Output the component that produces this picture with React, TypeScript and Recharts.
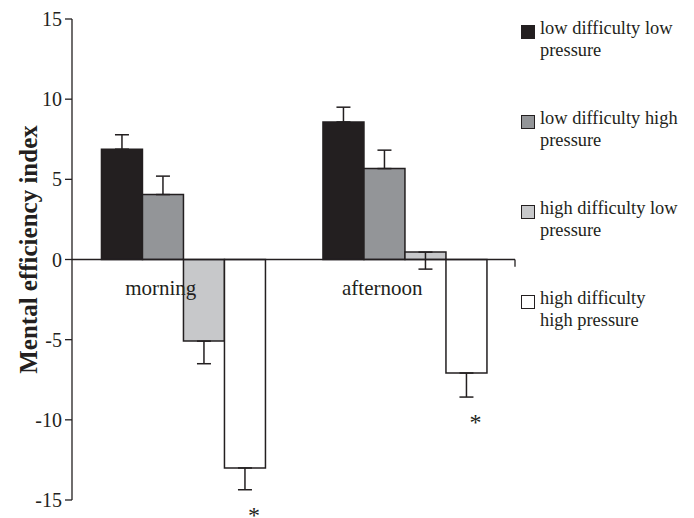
import React from 'react'
import { BarChart, Bar, XAxis, YAxis, ReferenceLine, ReferenceDot, ErrorBar, LabelList, Legend } from 'recharts'

const FONT = "'Liberation Serif', 'Times New Roman', serif"
const INK = '#231f20'

const categories = ['morning', 'afternoon']

// bar means
const lowDiffLowPress = [6.88, 8.58]
const lowDiffHighPress = [4.05, 5.67]
const highDiffLowPress = [-5.09, 0.46]
const highDiffHighPress = [-13.0, -7.08]

// one-sided error bars (length, drawn away from the bar end)
const lowDiffLowPressErr = [0.9, 0.92]
const lowDiffHighPressErr = [1.15, 1.15]
const highDiffLowPressErr = [1.41, 1.06]
const highDiffHighPressErr = [1.36, 1.5]

const highDiffHighStars = ['*', '*']

const yTicks = [-15, -10, -5, 0, 5, 10, 15]

const seriesNames = [
  'low difficulty low pressure',
  'low difficulty high pressure',
  'high difficulty low pressure',
  'high difficulty high pressure',
]
const fills = ['#231f20', '#939598', '#c7c8ca', '#ffffff']

const up = (e: number) => [0, e]
const down = (e: number) => [e, 0]

const data = categories.map((cat, i) => ({
  cat,
  ll: lowDiffLowPress[i],
  llErr: up(lowDiffLowPressErr[i]),
  lh: lowDiffHighPress[i],
  lhErr: up(lowDiffHighPressErr[i]),
  hl: highDiffLowPress[i],
  hlErr: down(highDiffLowPressErr[i]),
  hh: highDiffHighPress[i],
  hhErr: down(highDiffHighPressErr[i]),
  star: highDiffHighStars[i],
}))

const YLabel = ({ viewBox }: any) => {
  const cx = viewBox.x + 20
  const cy = viewBox.y + viewBox.height / 2 - 10
  return (
    <text
      x={cx}
      y={cy}
      transform={`rotate(-90 ${cx} ${cy})`}
      textAnchor="middle"
      dominantBaseline="central"
      fontFamily={FONT}
      fontWeight="bold"
      fontSize={25}
      fill={INK}
    >
      Mental efficiency index
    </text>
  )
}

const StarLabel = (props: any) => {
  const vb = props.viewBox ?? props
  const x = Number(vb.x)
  const y = Number(vb.y)
  const w = Number(vb.width)
  const h = Number(vb.height)
  const idx = props.index
  const value = highDiffHighPress[idx]
  if (value === undefined || !highDiffHighStars[idx]) return null
  const bottom = Math.max(y, y + h)
  const perUnit = Math.abs(h) / Math.abs(value)
  const errEnd = bottom + highDiffHighPressErr[idx] * perUnit
  return (
    <text x={x + w / 2 + 9} y={errEnd + 33} textAnchor="middle" fontFamily={FONT} fontSize={24} fill={INK}>
      {highDiffHighStars[idx]}
    </text>
  )
}

const renderLegend = () => (
  <div style={{ fontFamily: FONT, fontSize: 18.4, lineHeight: '21.5px', color: INK }}>
    {seriesNames.map((name, i) => (
      <div key={name} style={{ display: 'flex', alignItems: 'flex-start', height: 90 }}>
        <span
          style={{
            width: 12,
            height: 12,
            marginTop: 7,
            marginRight: 5,
            flex: 'none',
            background: fills[i],
            border: `1.5px solid ${INK}`,
          }}
        />
        <span style={{ width: 141 }}>{name}</span>
      </div>
    ))}
  </div>
)

export default function App() {
  return (
    <BarChart
      width={686}
      height={510}
      data={data}
      margin={{ top: 11, right: 179, bottom: 18, left: 0 }}
      barGap={0}
      barCategoryGap="13.3%"
    >
      <XAxis dataKey="cat" hide />
      <XAxis xAxisId="n" type="number" domain={[0, 2]} hide />
      <YAxis
        domain={[-15, 15]}
        ticks={yTicks}
        interval={0}
        width={64}
        tickSize={7}
        tickMargin={3}
        axisLine={{ stroke: INK, strokeWidth: 1.3 }}
        tickLine={{ stroke: INK, strokeWidth: 1.3 }}
        tick={{ fill: INK, fontSize: 20, fontFamily: FONT }}
        label={<YLabel />}
      />
      <Legend
        layout="vertical"
        align="center"
        verticalAlign="middle"
        content={renderLegend}
        wrapperStyle={{ left: 513, top: 10, width: 170 }}
      />
      <Bar dataKey="ll" name={seriesNames[0]} fill={fills[0]} stroke={INK} strokeWidth={1.5} isAnimationActive={false}>
        <ErrorBar dataKey="llErr" width={7} stroke={INK} strokeWidth={1.5} direction="y" />
      </Bar>
      <Bar dataKey="lh" name={seriesNames[1]} fill={fills[1]} stroke={INK} strokeWidth={1.5} isAnimationActive={false}>
        <ErrorBar dataKey="lhErr" width={7} stroke={INK} strokeWidth={1.5} direction="y" />
      </Bar>
      <Bar dataKey="hl" name={seriesNames[2]} fill={fills[2]} stroke={INK} strokeWidth={1.5} isAnimationActive={false}>
        <ErrorBar dataKey="hlErr" width={7} stroke={INK} strokeWidth={1.5} direction="y" />
      </Bar>
      <Bar dataKey="hh" name={seriesNames[3]} fill={fills[3]} stroke={INK} strokeWidth={1.5} isAnimationActive={false}>
        <ErrorBar dataKey="hhErr" width={7} stroke={INK} strokeWidth={1.5} direction="y" />
        <LabelList dataKey="star" content={<StarLabel />} />
      </Bar>
      <ReferenceLine y={0} stroke={INK} strokeWidth={1.3} />
      <ReferenceLine xAxisId="n" segment={[{ x: 1, y: 0 }, { x: 1, y: -0.45 }]} stroke={INK} strokeWidth={1.3} />
      <ReferenceLine xAxisId="n" segment={[{ x: 2, y: 0 }, { x: 2, y: -0.45 }]} stroke={INK} strokeWidth={1.3} />
      {categories.map((cat) => (
        <ReferenceDot
          key={cat}
          x={cat}
          y={0}
          r={0}
          shape={(p: any) => (
            <text x={p.cx - 22} y={p.cy + 35} textAnchor="middle" fontFamily={FONT} fontSize={21} fill={INK}>
              {cat}
            </text>
          )}
        />
      ))}
    </BarChart>
  )
}
